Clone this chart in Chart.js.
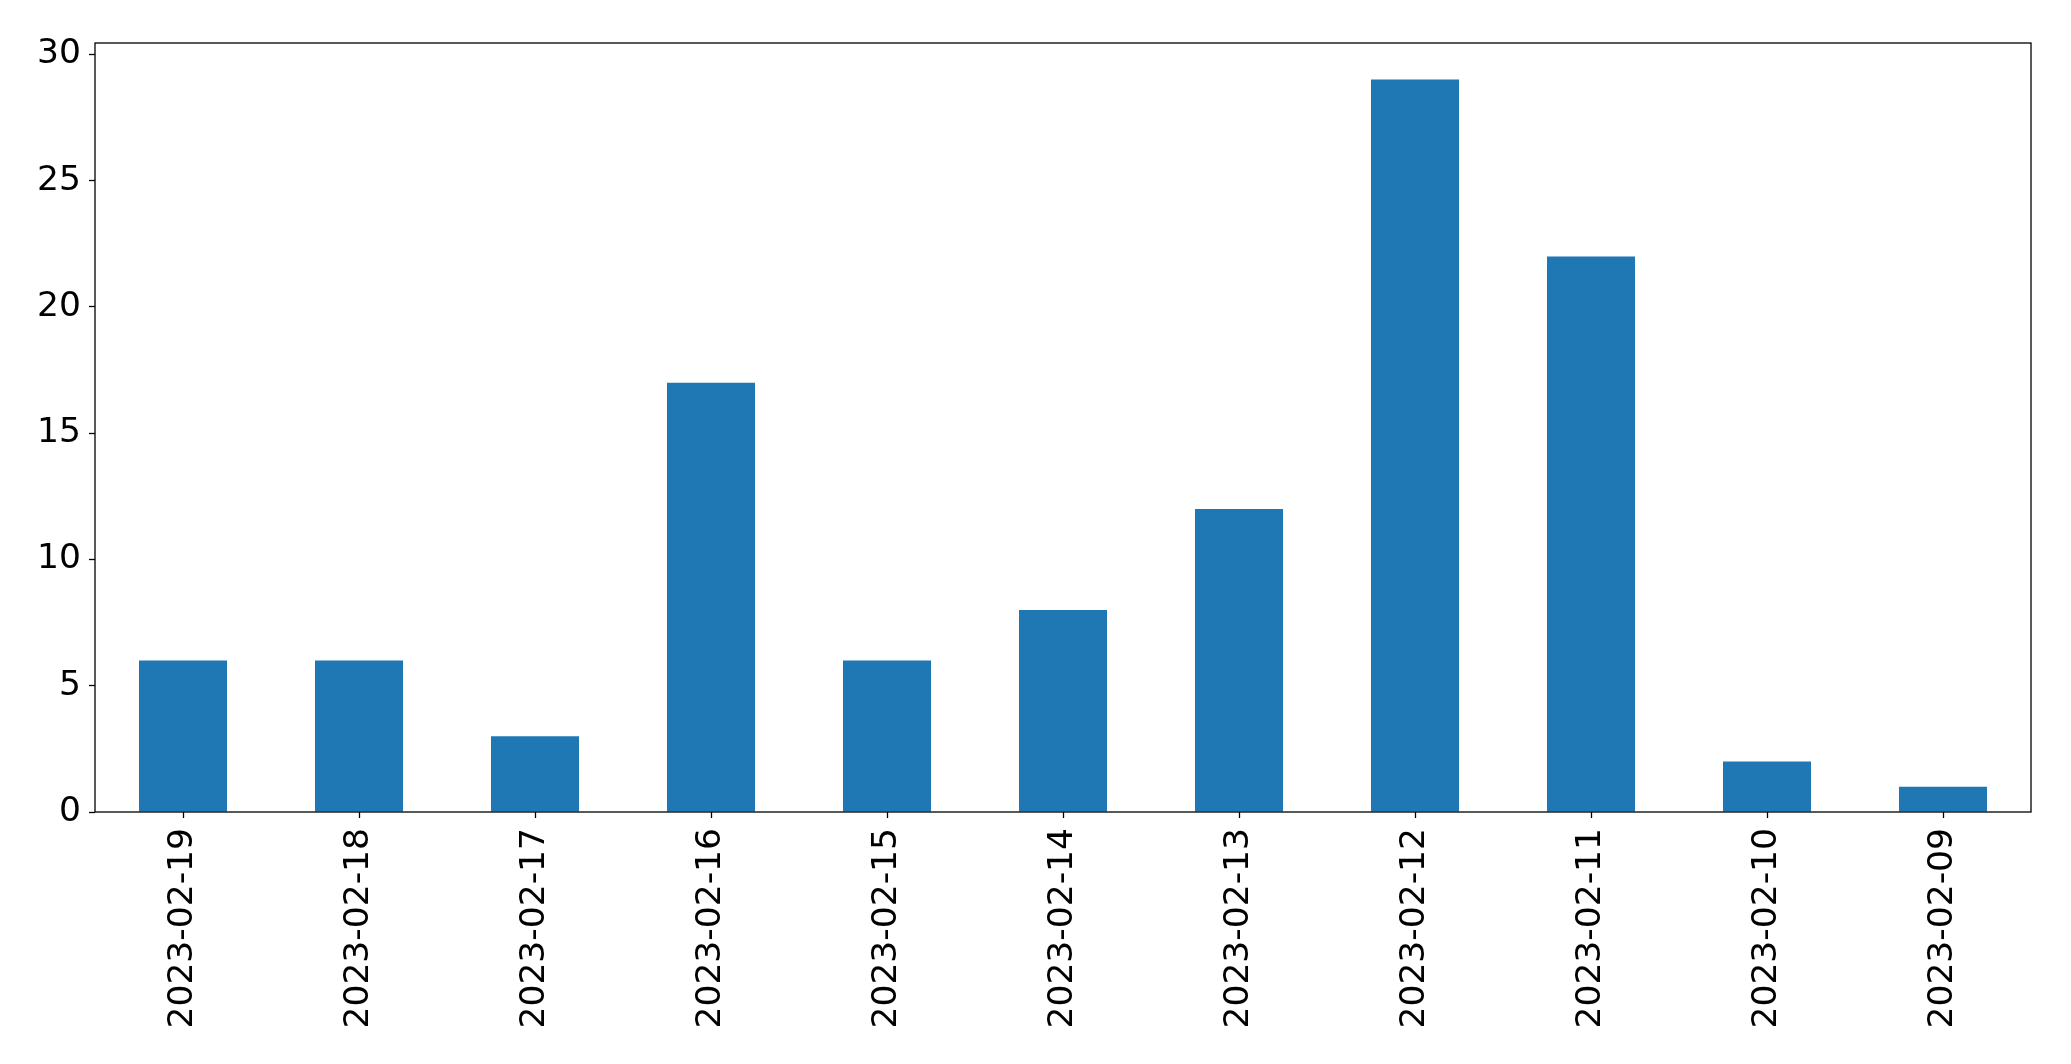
<!DOCTYPE html>
<html>
<head>
<meta charset="utf-8">
<script src="https://cdn.jsdelivr.net/npm/chart.js@4/dist/chart.umd.min.js"></script>
<style>
    html, body { margin: 0; padding: 0; background: #ffffff; }
    #chart { display: block; }
</style>
</head>
<body>
<canvas id="chart" width="2071" height="1064"></canvas>
<script>
// data
const dates = ['2023-02-19', '2023-02-18', '2023-02-17', '2023-02-16', '2023-02-15', '2023-02-14',
               '2023-02-13', '2023-02-12', '2023-02-11', '2023-02-10', '2023-02-09'];
const counts = [6, 6, 3, 17, 6, 8, 12, 29, 22, 2, 1];
const yTicks = [0, 5, 10, 15, 20, 25, 30];

const FONT = { family: 'DejaVu Sans', size: 34.5 };

// frame around the plot area (matplotlib style spines)
const framePlugin = {
    id: 'frame',
    afterDraw(chart) {
        const { ctx, chartArea: a } = chart;
        ctx.save();
        ctx.strokeStyle = '#000000';
        ctx.lineWidth = 1.3;
        ctx.strokeRect(a.left, a.top, a.right - a.left, a.bottom - a.top);
        ctx.restore();
    }
};

new Chart(document.getElementById('chart'), {
    type: 'bar',
    data: {
        labels: dates,
        datasets: [{
            data: counts,
            backgroundColor: '#1f77b4',
            borderWidth: 0,
            categoryPercentage: 1.0,
            barPercentage: 0.5
        }]
    },
    options: {
        responsive: false,
        animation: false,
        layout: { padding: { top: 43, right: 40, left: 0, bottom: 0 } },
        plugins: {
            legend: { display: false },
            tooltip: { enabled: false }
        },
        scales: {
            x: {
                grid: {
                    display: true,
                    drawOnChartArea: false,
                    offset: false,
                    tickLength: 6,
                    tickWidth: 1.3,
                    color: '#000000'
                },
                border: { display: false },
                ticks: {
                    color: '#000000',
                    font: FONT,
                    minRotation: 90,
                    maxRotation: 90,
                    padding: 10,
                    autoSkip: false
                },
                afterFit(scale) { scale.height = 252; }
            },
            y: {
                min: 0,
                max: 30.45,
                grid: {
                    display: true,
                    drawOnChartArea: false,
                    tickLength: 6,
                    tickWidth: 1.3,
                    color: '#000000'
                },
                border: { display: false },
                ticks: {
                    color: '#000000',
                    font: FONT,
                    padding: 8
                },
                afterBuildTicks(scale) {
                    scale.ticks = yTicks.map(v => ({ value: v }));
                },
                afterFit(scale) { scale.width = 95; }
            }
        }
    },
    plugins: [framePlugin]
});
</script>
</body>
</html>
